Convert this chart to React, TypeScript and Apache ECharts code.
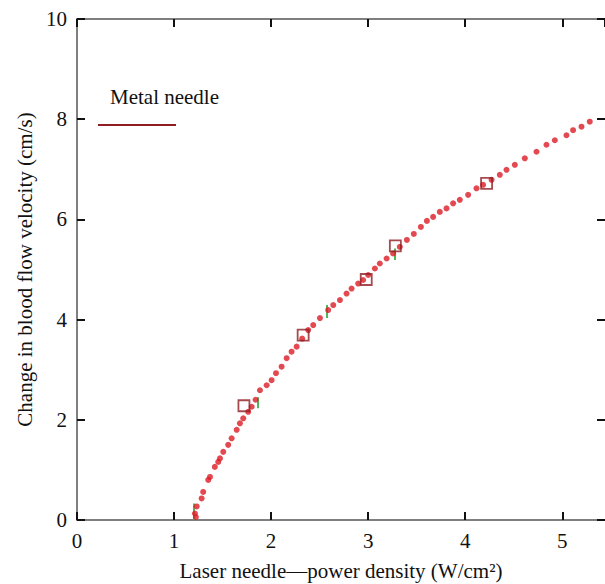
import React, { useEffect, useRef } from "react";
import * as echarts from "echarts";

const xTicks = [0, 1, 2, 3, 4, 5];
const yTicks = [0, 2, 4, 6, 8, 10];

const curvePoints: [number, number][] = [
  [1.225, 0.06], [1.215, 0.13], [1.233, 0.27], [1.284, 0.43], [1.3, 0.56],
  [1.352, 0.8], [1.37, 0.86], [1.42, 1.06], [1.455, 1.16], [1.473, 1.23],
  [1.507, 1.36], [1.558, 1.5], [1.593, 1.63], [1.645, 1.8], [1.679, 1.93],
  [1.713, 2.03], [1.764, 2.16], [1.8, 2.26], [1.84, 2.4], [1.885, 2.59],
  [1.954, 2.69], [2.005, 2.79], [2.05, 2.93], [2.108, 3.06], [2.16, 3.23],
  [2.211, 3.36], [2.263, 3.46], [2.32, 3.62], [2.382, 3.79], [2.434, 3.89],
  [2.503, 4.03], [2.588, 4.19], [2.64, 4.29], [2.709, 4.39], [2.777, 4.52],
  [2.829, 4.62], [2.897, 4.72], [2.948, 4.79], [3.0, 4.89], [3.069, 5.02],
  [3.12, 5.12], [3.19, 5.22], [3.257, 5.32], [3.326, 5.45], [3.399, 5.59],
  [3.47, 5.71], [3.543, 5.85], [3.605, 5.97], [3.669, 6.05], [3.738, 6.15],
  [3.807, 6.22], [3.875, 6.32], [3.944, 6.39], [4.03, 6.49], [4.116, 6.62],
  [4.184, 6.69], [4.271, 6.79], [4.356, 6.89], [4.425, 6.99], [4.511, 7.09],
  [4.614, 7.22], [4.734, 7.35], [4.837, 7.49], [4.923, 7.58], [5.043, 7.68],
  [5.111, 7.78], [5.198, 7.85], [5.283, 7.95],
];

const metalNeedlePoints: [number, number][] = [
  [1.72, 2.28], [2.33, 3.69], [2.98, 4.8], [3.28, 5.47], [4.22, 6.72],
];

const errorBarX = [1.205, 1.867, 2.57, 3.27];
const errorBarLow = [0.0, 2.23, 4.03, 5.19];
const errorBarHigh = [0.33, 2.45, 4.29, 5.42];

const legendLabel = "Metal needle";
const xTitle = "Laser needle—power density (W/cm²)";
const yTitle = "Change in blood flow velocity (cm/s)";

const FONT = "'Liberation Serif', 'Times New Roman', serif";

export default function App() {
  const ref = useRef<HTMLDivElement>(null);
  useEffect(() => {
    if (!ref.current) return;
    const chart = echarts.init(ref.current, undefined, { renderer: "svg" });
    const tickStyle = () => ({ show: true, inside: true, length: 8, lineStyle: { color: "#111", width: 2 } });
    const axisLine = (show = true) => ({ show, onZero: false, lineStyle: { color: "#555", width: 1.5 } });
    const xmax = 5.44;
    chart.setOption({
      animation: false,
      backgroundColor: "#fff",
      grid: { left: 77, right: 0, top: 19, bottom: 64, containLabel: false, outerBoundsMode: "none" },
      xAxis: [
        {
          type: "value", min: 0, max: xmax, interval: 1, position: "bottom",
          axisLine: axisLine(), axisTick: tickStyle(), splitLine: { show: false },
          axisLabel: {
            show: true, margin: 10, color: "#111", fontFamily: FONT, fontSize: 21,
            showMaxLabel: false,
            formatter: (v: number) => (xTicks.includes(v) ? String(v) : ""),
          },
          name: xTitle, nameLocation: "middle", nameGap: 40,
          nameTextStyle: { color: "#111", fontFamily: FONT, fontSize: 21 },
        },
        {
          type: "value", min: 0, max: xmax, interval: 1, position: "top",
          axisLine: axisLine(), axisTick: tickStyle(), splitLine: { show: false },
          axisLabel: { show: false },
        },
      ],
      yAxis: [
        {
          type: "value", min: 0, max: 10, interval: 2, position: "left",
          axisLine: axisLine(), axisTick: tickStyle(), splitLine: { show: false },
          axisLabel: {
            show: true, margin: 10, color: "#111", fontFamily: FONT, fontSize: 21,
            formatter: (v: number) => (yTicks.includes(v) ? String(v) : ""),
          },
          name: yTitle, nameLocation: "middle", nameGap: 39, nameRotate: 90,
          nameTextStyle: { color: "#111", fontFamily: FONT, fontSize: 21 },
        },
        {
          type: "value", min: 0, max: 10, interval: 2, position: "right",
          axisLine: axisLine(false), axisTick: tickStyle(), splitLine: { show: false },
          axisLabel: { show: false },
        },
      ],
      series: [
        {
          type: "scatter", name: "curve", data: curvePoints,
          symbol: "circle", symbolSize: 6, itemStyle: { color: "#dc1c24" }, z: 3,
        },
        {
          type: "lines", coordinateSystem: "cartesian2d", polyline: false,
          data: errorBarX.map((x, i) => ({ coords: [[x, errorBarLow[i]], [x, errorBarHigh[i]]] })),
          lineStyle: { color: "#3dae49", width: 1.8, opacity: 1 }, z: 2,
        },
        {
          type: "scatter", name: legendLabel, data: metalNeedlePoints,
          symbol: "rect", symbolSize: 11,
          itemStyle: { color: "rgba(255,255,255,0)", borderColor: "#8f1d22", borderWidth: 1.8 }, z: 4,
        },
      ],
      graphic: [
        {
          type: "text", left: 110, top: 86,
          style: { text: legendLabel, fontFamily: FONT, fontSize: 21, fill: "#111" },
        },
        {
          type: "line", shape: { x1: 98, y1: 125, x2: 176, y2: 125 },
          style: { stroke: "#8f1d22", lineWidth: 2 },
        },
      ],
    });
    return () => chart.dispose();
  }, []);
  return <div ref={ref} style={{ position: "absolute", left: 0, top: 0, width: 605, height: 584 }} />;
}
